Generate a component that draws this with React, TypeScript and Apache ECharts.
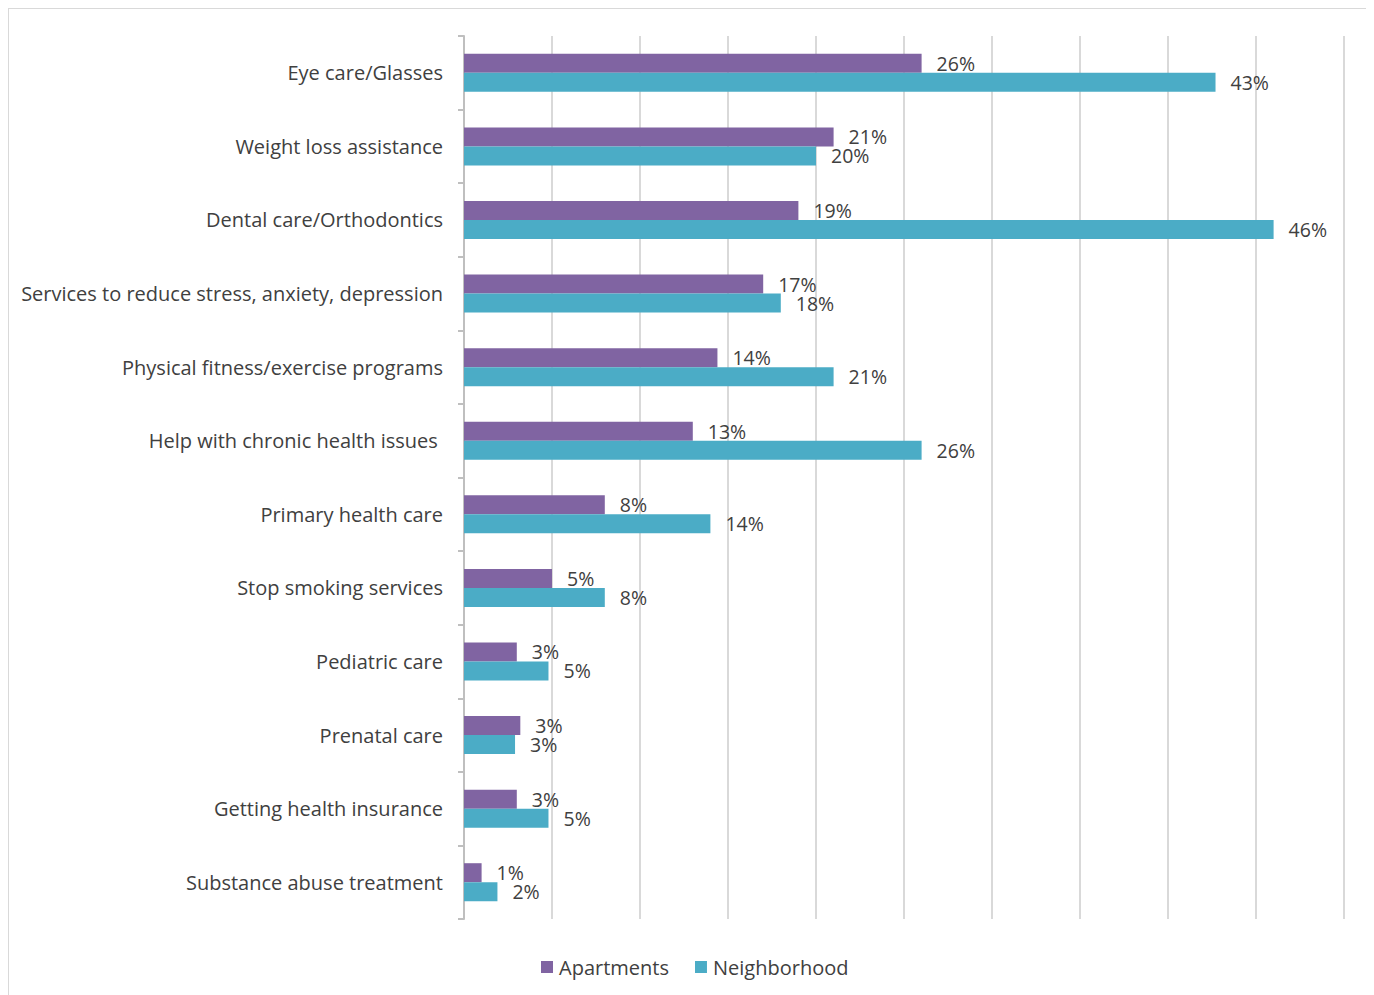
import React, { useEffect, useRef } from "react";
import * as echarts from "echarts";

const categories = [
  "Eye care/Glasses",
  "Weight loss assistance",
  "Dental care/Orthodontics",
  "Services to reduce stress, anxiety, depression",
  "Physical fitness/exercise programs",
  "Help with chronic health issues ",
  "Primary health care",
  "Stop smoking services",
  "Pediatric care",
  "Prenatal care",
  "Getting health insurance",
  "Substance abuse treatment",
];
const apartments = [26, 21, 19, 17, 14.4, 13, 8, 5, 3, 3.2, 3, 1];
const neighborhood = [42.7, 20, 46, 18, 21, 26, 14, 8, 4.8, 2.9, 4.8, 1.9];
const seriesNames = ["Apartments", "Neighborhood"];

const FONT = "'Open Sans', sans-serif";
const TEXT = "#404040";

export default function App() {
  const ref = useRef<HTMLDivElement>(null);
  useEffect(() => {
    document.documentElement.style.overflow = "hidden";
    document.body.style.overflow = "hidden";
    if (!ref.current) return;
    const chart = echarts.init(ref.current, undefined, { renderer: "svg" });
    const label = {
      show: true,
      position: "right",
      distance: 15,
      color: TEXT,
      fontFamily: FONT,
      fontSize: 19.5,
      formatter: (p: any) => Math.round(p.value) + "%",
    };
    chart.setOption({
      animation: false,
      textStyle: { fontFamily: FONT },
      grid: { left: 455, right: 27, top: 27, bottom: 76, containLabel: false },
      legend: {
        top: 943,
        left: 527,
        itemWidth: 12,
        itemHeight: 12,
        itemGap: 26,
        icon: "rect",
        textStyle: { color: TEXT, fontSize: 20, fontFamily: FONT, padding: [0, 0, 0, 1] },
        data: seriesNames,
      },
      xAxis: {
        type: "value",
        min: 0,
        max: 50,
        interval: 5,
        axisLabel: { show: false },
        axisLine: { show: false },
        axisTick: { show: false },
        splitLine: { lineStyle: { color: "#d9d9d9", width: 2 } },
      },
      yAxis: {
        type: "category",
        inverse: true,
        data: categories,
        axisLine: { lineStyle: { color: "#bfbfbf", width: 2 } },
        axisTick: { show: true, length: 6, lineStyle: { color: "#bfbfbf", width: 2 } },
        axisLabel: { color: TEXT, fontSize: 20, fontFamily: FONT, margin: 21 },
      },
      series: [
        {
          name: seriesNames[0],
          type: "bar",
          data: apartments,
          barWidth: 19,
          barGap: "0%",
          itemStyle: { color: "#8064A2" },
          label,
        },
        {
          name: seriesNames[1],
          type: "bar",
          data: neighborhood,
          barWidth: 19,
          barGap: "0%",
          itemStyle: { color: "#4BACC6" },
          label,
        },
      ],
    });
    return () => chart.dispose();
  }, []);
  return (
    <div
      style={{
        width: 1364,
        height: 987,
        borderTop: "1px solid #d9d9d9",
        borderLeft: "1px solid #d9d9d9",
        borderRight: "1px solid #d9d9d9",
        boxSizing: "border-box",
      }}
    >
      <div ref={ref} style={{ width: 1362, height: 986 }} />
    </div>
  );
}
